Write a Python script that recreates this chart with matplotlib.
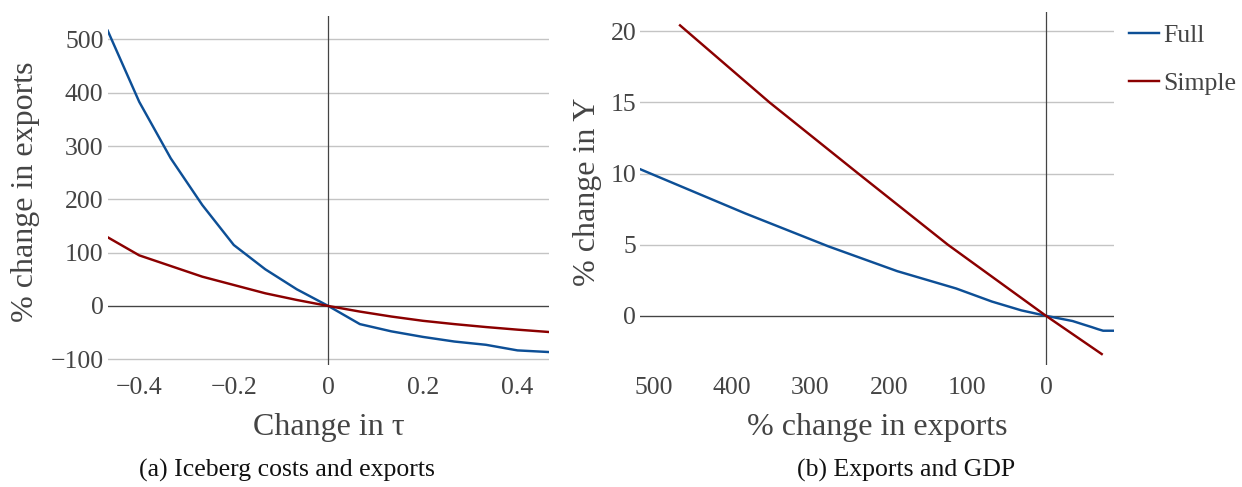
import numpy as np
import matplotlib.pyplot as plt

# tau grid: k/15 for k = -7..7
tau = [-7/15, -6/15, -5/15, -4/15, -3/15, -2/15, -1/15, 0,
       1/15, 2/15, 3/15, 4/15, 5/15, 6/15, 7/15]

# panel (a): % change in exports
exp_full = [516.5, 383, 277, 189.5, 114.4, 68.8, 31.3, 0,
            -34, -47.6, -58, -66.7, -72.8, -83.3, -86.4]
exp_simple = [128.9, 95, 75, 55, 39.4, 23.8, 11.3, 0,
              -10.5, -19.8, -27.8, -34, -39.5, -44.4, -48.8]

# panel (b): % change in Y against % change in exports
gdp_full = [10.3, 7.2, 4.88, 3.14, 1.92, 1.0, 0.38, 0,
            -0.37, -0.61, -0.79, -0.95, -1.05, -1.05, -1.05]
exp_simple_b = [466, 352, 239, 125, 0, -71]
gdp_simple = [20.42, 15, 10, 5, 0, -2.69]

BLUE = '#0d4f96'
RED = '#8b0000'
TXT = '#444444'
GRID = '#c4c4c4'

plt.rcParams['font.family'] = ['Liberation Serif', 'DejaVu Serif']

W, H = 1242, 487
fig = plt.figure(figsize=(W / 100, H / 100), dpi=100)


def px_axes(l, r, t, b):
    return fig.add_axes([l / W, 1 - b / H, (r - l) / W, (b - t) / H])


def style(ax):
    for s in ax.spines.values():
        s.set_visible(False)
    ax.grid(axis='y', color=GRID, lw=1.0)
    ax.set_axisbelow(True)
    ax.tick_params(length=0, labelsize=18.5, colors=TXT)
    ax.tick_params(axis='x', pad=9)
    ax.tick_params(axis='y', pad=3)
    ax.axhline(0, color=TXT, lw=0.9, zorder=1)
    ax.axvline(0, color=TXT, lw=0.9, zorder=1)


# ---- (a) Iceberg costs and exports
ax1 = px_axes(107.7, 549, 16, 365)
style(ax1)
ax1.plot(tau, exp_full, color=BLUE, lw=1.75, zorder=3)
ax1.plot(tau, exp_simple, color=RED, lw=1.75, zorder=3)
ax1.set_xlim(-7/15, 7/15)
ax1.set_ylim(-110.7, 544)
ax1.set_xticks([-0.4, -0.2, 0, 0.2, 0.4])
ax1.set_xticklabels(['\u22120.4', '\u22120.2', '0', '0.2', '0.4'])
ax1.set_yticks([-100, 0, 100, 200, 300, 400, 500])
ax1.set_yticklabels(['\u2212100', '0', '100', '200', '300', '400', '500'])
ax1.set_xlabel('Change in \u03c4', fontsize=23, color=TXT)
ax1.xaxis.set_label_coords(0.5, (365 - 428) / 349)
ax1.xaxis.label.set_va('center')
ax1.set_ylabel('% change in exports', fontsize=23, color=TXT)
ax1.yaxis.set_label_coords((26 - 107.7) / 441.3, (365 - 192) / 349)
ax1.yaxis.label.set_va('center')

# ---- (b) Exports and GDP
ax2 = px_axes(640.4, 1113.8, 12, 365)
style(ax2)
ax2.plot(exp_full, gdp_full, color=BLUE, lw=1.75, zorder=3, label='Full')
ax2.plot(exp_simple_b, gdp_simple, color=RED, lw=1.75, zorder=3, label='Simple')
ax2.set_xlim(516.5, -86.4)
ax2.set_ylim(-3.46, 21.36)
ax2.set_xticks([500, 400, 300, 200, 100, 0])
ax2.set_yticks([0, 5, 10, 15, 20])
ax2.set_xlabel('% change in exports', fontsize=23, color=TXT)
ax2.xaxis.set_label_coords(0.5, (365 - 428) / 353)
ax2.xaxis.label.set_va('center')
ax2.set_ylabel('% change in Y', fontsize=23, color=TXT)
ax2.yaxis.set_label_coords((587 - 640.4) / 473.4, (365 - 192) / 353)
ax2.yaxis.label.set_va('center')

leg = ax2.legend(loc='upper left', bbox_to_anchor=(1129 / W, 1 - 24 / H),
                 bbox_transform=fig.transFigure, frameon=False,
                 fontsize=18.5, handlelength=1.15, handletextpad=0.2,
                 borderpad=0, borderaxespad=0, labelspacing=0.98)
for t in leg.get_texts():
    t.set_color(TXT)

# captions
fig.text(287 / W, 1 - 470 / H, '(a) Iceberg costs and exports',
         ha='center', va='center', fontsize=18.5, color='#111111')
fig.text(906 / W, 1 - 470 / H, '(b) Exports and GDP',
         ha='center', va='center', fontsize=18.5, color='#111111')

fig.savefig('out.png', dpi=100)
